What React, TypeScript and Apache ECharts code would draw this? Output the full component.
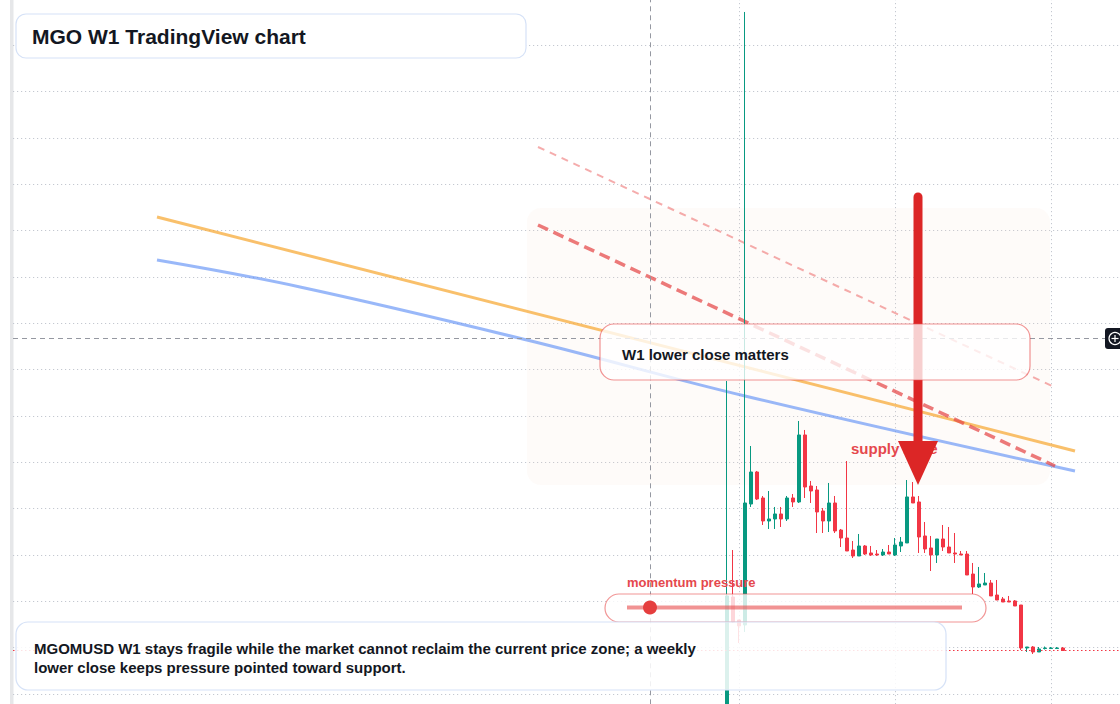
import React, { useEffect, useRef } from 'react';
import * as echarts from 'echarts';

// weekly categories (time slots of the chart, only the right part holds candles)
const categories: string[] = Array.from({ length: 186 }, (_, i) => `W${i + 1}`);
const firstCandle = 119; // category index of the first MGOMUSD weekly candle

const opens = [2.65, 30.93, 25.97, 24.89, 51.0, 57.91, 52.3, 47.33, 47.77, 48.85, 47.77, 52.3, 51.44, 65.9, 54.89, 54.03, 49.49, 47.33, 51.22, 45.39, 43.66, 41.07, 39.78, 41.94, 40.43, 40.21, 40.0, 40.64, 40.0, 41.94, 42.59, 52.52, 51.44, 44.1, 41.51, 40.0, 43.45, 41.72, 40.43, 40.21, 40.21, 35.89, 33.09, 33.52, 33.95, 31.36, 30.5, 30.07, 30.07, 29.2, 19.92, 20.14, 19.06, 19.81, 19.81, 19.81, 19.92];
const closes = [31.16, 25.53, 24.67, 51.22, 57.91, 52.08, 47.33, 47.77, 48.85, 47.77, 52.3, 51.44, 65.9, 54.67, 53.81, 49.28, 47.33, 51.22, 45.18, 43.66, 40.86, 39.78, 41.94, 40.21, 40.0, 40.0, 40.64, 40.21, 42.15, 42.8, 52.52, 51.22, 43.88, 41.29, 40.0, 43.45, 41.72, 40.43, 40.21, 40.0, 35.68, 33.09, 33.74, 33.95, 31.15, 30.28, 29.85, 29.85, 28.99, 19.92, 20.14, 19.06, 19.71, 19.92, 19.92, 19.92, 19.38];
const lows = [1.79, 25.32, 21.0, 23.38, 50.36, 51.87, 46.47, 45.61, 45.61, 46.04, 47.33, 50.36, 51.22, 52.3, 51.22, 44.74, 44.74, 44.96, 44.74, 41.72, 40.86, 39.35, 39.78, 40.0, 39.78, 39.78, 39.78, 40.21, 39.78, 40.64, 42.59, 51.22, 40.43, 40.43, 36.54, 38.27, 40.86, 40.43, 38.27, 40.0, 35.68, 31.58, 32.87, 33.52, 31.15, 30.28, 29.85, 29.85, 28.99, 19.49, 19.06, 18.63, 19.06, 19.6, 19.71, 19.71, 19.38];
const highs = [77.55, 41.07, 25.97, 157.2, 63.52, 58.13, 52.73, 53.81, 50.36, 50.36, 52.73, 53.16, 68.92, 66.98, 55.97, 54.89, 50.14, 55.54, 52.73, 45.61, 60.28, 43.02, 44.53, 42.15, 41.94, 41.07, 41.29, 42.15, 43.66, 43.88, 56.18, 55.75, 52.73, 47.12, 44.1, 43.45, 46.47, 46.04, 44.74, 40.86, 40.86, 38.27, 37.41, 36.11, 34.6, 34.6, 30.93, 31.15, 30.28, 29.2, 20.14, 20.35, 20.14, 20.24, 20.14, 20.14, 20.14];

// drawn trend lines: [week position, price]
const orangeLine: [number, number][] = [[24, 112.95], [177, 62.44]];
const blueLine: [number, number][] = [[24, 103.67], [47.83, 97.84], [85.67, 86.4], [122, 74.31], [177, 58.13]];
const upperDashed: [number, number][] = [[87.5, 128.06], [173.17, 76.47]];
const lowerDashed: [number, number][] = [[87.5, 111.22], [173.67, 59.21]];

const timeGridWeeks = [121, 147, 173];
const crosshairWeek = 106.17;
const crosshairPrice = 86.83;
const lastPrice = 19.43;

const FONT = "'Liberation Sans', Arial, Helvetica, sans-serif";

export default function App() {
  const ref = useRef<HTMLDivElement>(null);
  useEffect(() => {
    const chart = echarts.init(ref.current as HTMLDivElement, null, { renderer: 'svg' });
    const candleData = categories.map((_, i) => {
      const k = i - firstCandle;
      if (k < 0 || k >= opens.length) return '-';
      return [opens[k], closes[k], lows[k], highs[k]];
    });
    const gridDots = { type: [1.2, 2.8] as any, color: '#c4c8d0', width: 1 };
    const option: any = {
      animation: false,
      backgroundColor: '#ffffff',
      grid: { left: 13, top: -1, width: 1110, height: 741.3, outerBoundsMode: 'none', containLabel: false },
      xAxis: [
        {
          type: 'category',
          data: categories,
          boundaryGap: false,
          axisLine: { show: false },
          axisTick: { show: false },
          axisLabel: { show: false },
          splitLine: {
            show: true,
            interval: (idx: number) => timeGridWeeks.includes(idx),
            lineStyle: gridDots,
          },
        },
        { type: 'value', min: 0, max: 185, show: false },
      ],
      yAxis: {
        type: 'value',
        min: 0,
        max: 160,
        interval: 10,
        axisLine: { show: false },
        axisTick: { show: false },
        axisLabel: { show: false },
        splitLine: { show: true, lineStyle: gridDots },
      },
      series: [
        {
          type: 'line',
          xAxisIndex: 1,
          data: orangeLine,
          symbol: 'none',
          z: 3,
          lineStyle: { color: 'rgba(246,168,50,0.72)', width: 3 },
        },
        {
          type: 'line',
          xAxisIndex: 1,
          data: blueLine,
          smooth: 0.4,
          symbol: 'none',
          z: 3,
          lineStyle: { color: 'rgba(90,140,245,0.62)', width: 3 },
        },
        {
          type: 'line',
          xAxisIndex: 1,
          data: upperDashed,
          symbol: 'none',
          z: 3,
          lineStyle: { color: 'rgba(236,90,90,0.5)', width: 2, type: [7, 6] },
        },
        {
          type: 'line',
          xAxisIndex: 1,
          data: lowerDashed,
          symbol: 'none',
          z: 3,
          lineStyle: { color: 'rgba(228,70,70,0.72)', width: 3.5, type: [11, 6] },
        },
        {
          type: 'candlestick',
          data: candleData,
          barWidth: 4.4,
          z: 4,
          itemStyle: {
            color: '#089981',
            color0: '#f23645',
            borderColor: '#089981',
            borderColor0: '#f23645',
            borderWidth: 1,
          },
          markLine: {
            silent: true,
            symbol: 'none',
            label: { show: false },
            data: [
              { yAxis: lastPrice, lineStyle: { color: '#f23645', type: [1.5, 2.5], width: 1.2 } },
            ],
          },
        },
        {
          type: 'line',
          xAxisIndex: 1,
          data: [],
          z: 5,
          markLine: {
            silent: true,
            symbol: 'none',
            label: { show: false },
            lineStyle: { color: '#9598a1', type: [5, 4], width: 1 },
            data: [{ xAxis: crosshairWeek }, { yAxis: crosshairPrice }],
          },
        },
      ],
      graphic: [
        { type: 'rect', z: 0, shape: { x: 10, y: 0, width: 3.5, height: 704 }, style: { fill: '#e6e7e9' } },
        { type: 'rect', z: 1, shape: { x: 527, y: 208, width: 523, height: 277, r: 14 }, style: { fill: 'rgba(250,225,205,0.12)' } },
        {
          type: 'text', z: 20, x: 851, y: 448,
          style: { text: 'supply zone', fill: '#e5484d', fontSize: 15, fontWeight: 'bold', fontFamily: FONT, verticalAlign: 'middle' },
        },
        { type: 'line', z: 21, shape: { x1: 918, y1: 197, x2: 918, y2: 450 }, style: { stroke: '#dc2626', lineWidth: 9, lineCap: 'round' } },
        { type: 'polygon', z: 21, shape: { points: [[898, 441], [938, 441], [918, 485]] }, style: { fill: '#dc2626' } },
        { type: 'rect', z: 22, shape: { x: 600, y: 324, width: 430, height: 56, r: 14 }, style: { fill: 'rgba(255,255,255,0.78)', stroke: 'rgba(232,80,80,0.62)', lineWidth: 1.2 } },
        {
          type: 'text', z: 23, x: 622, y: 354,
          style: { text: 'W1 lower close matters', fill: '#131722', fontSize: 15, fontWeight: 'bold', fontFamily: FONT, verticalAlign: 'middle' },
        },
        {
          type: 'text', z: 23, x: 627, y: 582.5,
          style: { text: 'momentum pressure', fill: '#e5484d', fontSize: 13, fontWeight: 'bold', fontFamily: FONT, verticalAlign: 'middle' },
        },
        { type: 'rect', z: 22, shape: { x: 605, y: 594, width: 381, height: 28, r: 14 }, style: { fill: 'rgba(255,255,255,0.8)', stroke: 'rgba(232,80,80,0.6)', lineWidth: 1.2 } },
        { type: 'line', z: 23, shape: { x1: 627, y1: 607.5, x2: 962, y2: 607.5 }, style: { stroke: 'rgba(232,80,80,0.62)', lineWidth: 4 } },
        { type: 'circle', z: 24, shape: { cx: 650, cy: 607.5, r: 7 }, style: { fill: '#e53e3e' } },
        { type: 'rect', z: 22, shape: { x: 16, y: 622, width: 930, height: 68, r: 12 }, style: { fill: 'rgba(255,255,255,0.86)', stroke: '#d6e2f7', lineWidth: 1.2 } },
        {
          type: 'text', z: 23, x: 34, y: 648,
          style: { text: 'MGOMUSD W1 stays fragile while the market cannot reclaim the current price zone; a weekly', fill: '#131722', fontSize: 15, fontWeight: 'bold', fontFamily: FONT, verticalAlign: 'middle' },
        },
        {
          type: 'text', z: 23, x: 34, y: 667,
          style: { text: 'lower close keeps pressure pointed toward support.', fill: '#131722', fontSize: 15, fontWeight: 'bold', fontFamily: FONT, verticalAlign: 'middle' },
        },
        { type: 'rect', z: 22, shape: { x: 16, y: 14, width: 510, height: 44, r: 10 }, style: { fill: '#ffffff', stroke: '#d6e2f7', lineWidth: 1.2 } },
        {
          type: 'text', z: 23, x: 32, y: 36,
          style: { text: 'MGO W1 TradingView chart', fill: '#131722', fontSize: 21, fontWeight: 'bold', fontFamily: FONT, verticalAlign: 'middle' },
        },
        { type: 'rect', z: 22, shape: { x: 1105, y: 328, width: 22, height: 21, r: 3 }, style: { fill: '#131722' } },
        { type: 'circle', z: 23, shape: { cx: 1115, cy: 338.5, r: 6 }, style: { fill: 'none', stroke: '#ffffff', lineWidth: 1.2 } },
        { type: 'line', z: 23, shape: { x1: 1111.5, y1: 338.5, x2: 1118.5, y2: 338.5 }, style: { stroke: '#ffffff', lineWidth: 1.2 } },
        { type: 'line', z: 23, shape: { x1: 1115, y1: 335, x2: 1115, y2: 342 }, style: { stroke: '#ffffff', lineWidth: 1.2 } },
      ],
    };
    chart.setOption(option);
    return () => chart.dispose();
  }, []);
  return (
    <div
      ref={ref}
      style={{ position: 'fixed', left: 0, top: 0, width: 1120, height: 704, background: '#ffffff' }}
    />
  );
}
